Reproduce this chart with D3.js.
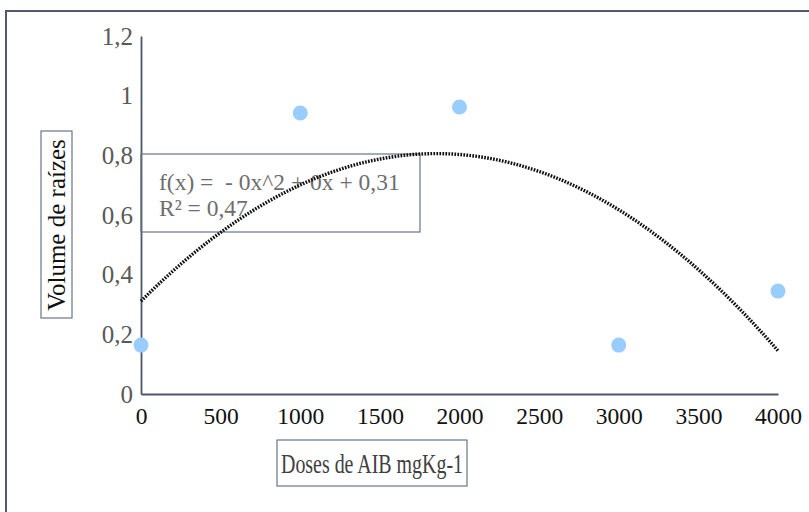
<!DOCTYPE html>
<html>
<head>
<meta charset="utf-8">
<script src="https://cdn.jsdelivr.net/npm/d3@7"></script>
<style>
  body { margin: 0; background: #fff; }
  svg text { font-family: "Liberation Serif", "Times New Roman", serif; }
</style>
</head>
<body>
<div id="chart"></div>
<script>
// ---------- Data ----------
const doses = [0, 1000, 2000, 3000, 4000];
const volumes = [0.164, 0.942, 0.962, 0.164, 0.345];
const xTicks = [0, 500, 1000, 1500, 2000, 2500, 3000, 3500, 4000];
const yTicks = [0, 0.2, 0.4, 0.6, 0.8, 1, 1.2];
const eqLines = ["f(x) =  - 0x^2 + 0x + 0,31", "R² = 0,47"];

// ---------- Quadratic least squares ----------
function polyFit(xs, ys) {
  // normal equations for y = a + b x + c x^2
  const S = k => d3.sum(xs, x => Math.pow(x, k));
  const T = k => d3.sum(xs, (x, i) => Math.pow(x, k) * ys[i]);
  const M = [[S(0), S(1), S(2), T(0)], [S(1), S(2), S(3), T(1)], [S(2), S(3), S(4), T(2)]];
  for (let i = 0; i < 3; i++) {
    for (let j = i + 1; j < 3; j++) {
      const f = M[j][i] / M[i][i];
      for (let k = i; k < 4; k++) M[j][k] -= f * M[i][k];
    }
  }
  const r = [0, 0, 0];
  for (let i = 2; i >= 0; i--) {
    let s = M[i][3];
    for (let k = i + 1; k < 3; k++) s -= M[i][k] * r[k];
    r[i] = s / M[i][i];
  }
  return r;
}

// ---------- Chart ----------
const width = 809, height = 512;
const svg = d3.select("#chart").append("svg")
  .attr("width", width).attr("height", height);

// outer frame (runs off right/bottom)
svg.append("rect")
  .attr("x", 6).attr("y", 11)
  .attr("width", width + 20).attr("height", height + 20)
  .attr("fill", "none").attr("stroke", "#505a6c").attr("stroke-width", 2);

const x = d3.scaleLinear().domain([0, 4000]).range([141, 778]);
const y = d3.scaleLinear().domain([0, 1.2]).range([394, 36]);
const fmt = d => String(d).replace(".", ",");

// axes
const xAxis = svg.append("g")
  .attr("transform", `translate(0,${y(0)})`)
  .call(d3.axisBottom(x).tickValues(xTicks).tickSize(0).tickPadding(13).tickFormat(d => d));
xAxis.select(".domain").attr("stroke", "#4c566a").attr("stroke-width", 1.8);
xAxis.selectAll("text")
  .attr("font-size", 23.5).attr("fill", "#111")
  .style("font-family", "Liberation Serif, serif");

const yAxis = svg.append("g")
  .attr("transform", `translate(${x(0)},0)`)
  .call(d3.axisLeft(y).tickValues(yTicks).tickSize(0).tickPadding(8).tickFormat(fmt));
yAxis.select(".domain").attr("stroke", "#4c566a").attr("stroke-width", 1.8);
yAxis.selectAll("text")
  .attr("font-size", 25).attr("fill", "#595959")
  .style("font-family", "Liberation Serif, serif");

// equation box
svg.append("rect")
  .attr("x", x(0)).attr("y", 154)
  .attr("width", 420 - x(0)).attr("height", 78)
  .attr("fill", "none").attr("stroke", "#6b7587").attr("stroke-width", 1.2);
svg.append("g").selectAll("text")
  .data(eqLines)
  .join("text")
  .attr("x", 159)
  .attr("y", (d, i) => 190 + i * 26)
  .attr("font-size", 23.5)
  .attr("fill", "#6e6e6e")
  .attr("xml:space", "preserve")
  .style("white-space", "pre")
  .text(d => d);

// trend line
const [a, b, c] = polyFit(doses, volumes);
const curveX = d3.range(0, 4001, 25);
svg.append("path")
  .datum(curveX)
  .attr("fill", "none")
  .attr("stroke", "#111")
  .attr("stroke-width", 3.4)
  .attr("stroke-dasharray", "1.7,1.3")
  .attr("d", d3.line().x(d => x(d)).y(d => y(a + b * d + c * d * d)));

// points
svg.append("g").selectAll("circle")
  .data(doses)
  .join("circle")
  .attr("cx", d => x(d))
  .attr("cy", (d, i) => y(volumes[i]))
  .attr("r", 7.5)
  .attr("fill", "#99ccff");

// axis titles with boxes
svg.append("rect")
  .attr("x", 277).attr("y", 440).attr("width", 190).attr("height", 46)
  .attr("fill", "#fff").attr("stroke", "#6b7587").attr("stroke-width", 1.2);
svg.append("text")
  .attr("x", 372).attr("y", 473)
  .attr("text-anchor", "middle")
  .attr("font-size", 28).attr("fill", "#404040")
  .attr("textLength", 182).attr("lengthAdjust", "spacingAndGlyphs")
  .text("Doses de AIB mgKg-1");

svg.append("rect")
  .attr("x", 41).attr("y", 131).attr("width", 31).attr("height", 187)
  .attr("fill", "#fff").attr("stroke", "#6b7587").attr("stroke-width", 1.2);
svg.append("text")
  .attr("transform", "translate(65,225) rotate(-90)")
  .attr("text-anchor", "middle")
  .attr("font-size", 25).attr("fill", "#111")
  .text("Volume de raízes");
</script>
</body>
</html>
